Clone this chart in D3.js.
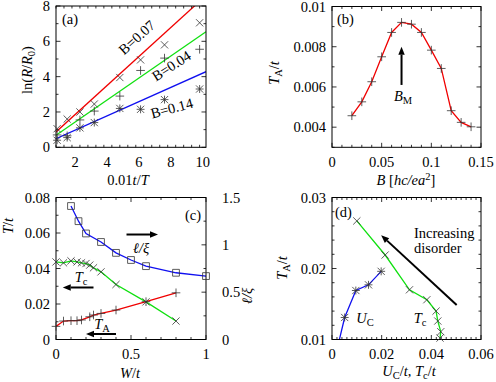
<!DOCTYPE html>
<html>
<script src="https://d3js.org/d3.v7.min.js"></script>
<style>
  body { margin: 0; background: #fff; }
  svg text { font-family: 'Liberation Serif', 'Times New Roman', Times, 'DejaVu Serif', serif; font-size: 14.5px; fill: #000; }
</style>
<body>
<svg width=496 height=382></svg>
<script>
// ---- panel (a): ln(R/R0) vs 0.01t/T
const aX = [0.87, 1.5, 2.3, 3.2, 4.8, 6.1, 7.6, 9.8];
const aB007 = [1.05, 1.6, 2.0, 2.45, 3.95, 4.95, 5.8, 7.05];
const aB004 = [0.7, 0.65, 1.55, 2.05, 2.9, 4.35, 5.05, 5.55];
const aB014 = [0.4, 0.55, 1.1, 1.4, 2.2, 2.15, 2.7, 3.3];
const aFitIntercept = [0.21, 0.18, 0.17];
const aFitSlope = [0.822, 0.624, 0.403];
const aXTicks = [2, 4, 6, 8, 10];
const aYTicks = [0, 2, 4, 6, 8];

// ---- panel (b): T_A/t vs B
const bB = [0.02, 0.03, 0.04, 0.05, 0.06, 0.07, 0.08, 0.09, 0.10, 0.11, 0.12, 0.13, 0.14];
const bTA = [0.00457, 0.00526, 0.00626, 0.0075, 0.00871, 0.00921, 0.00912, 0.00871, 0.00783, 0.00692, 0.00482, 0.00424, 0.00402];
const bXTicks = [0, 0.05, 0.1, 0.15];
const bYTicks = [0.004, 0.006, 0.008, 0.01];

// ---- panel (c): T/t and l/xi vs W/t
const cWl = [0.1, 0.15, 0.2, 0.3, 0.4, 0.5, 0.6, 0.8, 1.0];
const cLxi = [1.41, 1.25, 1.12, 1.03, 0.915, 0.84, 0.775, 0.705, 0.67];
const cWc = [0, 0.05, 0.1, 0.14, 0.17, 0.2, 0.225, 0.25, 0.3, 0.4, 0.6, 0.8];
const cTc = [0.0437, 0.0432, 0.0443, 0.0437, 0.0432, 0.0428, 0.0419, 0.0404, 0.0381, 0.031, 0.0212, 0.0104];
const cWa = [0, 0.05, 0.1, 0.14, 0.17, 0.225, 0.25, 0.3, 0.4, 0.6, 0.8];
const cTA = [0.0074, 0.0104, 0.0106, 0.0106, 0.011, 0.0128, 0.0138, 0.0147, 0.0166, 0.0213, 0.0263];
const cXTicks = [0, 0.5, 1];
const cYTicks = [0, 0.02, 0.04, 0.06, 0.08];
const cY2Ticks = [0, 0.5, 1, 1.5];

// ---- panel (d): T_A/t vs U_C/t, T_c/t
const dUc = [0.0025, 0.0051, 0.0096, 0.0147, 0.0198];
const dTAu = [0.0093, 0.0131, 0.0169, 0.0177, 0.0196];
const dTc = [0.01, 0.0214, 0.0312, 0.0382, 0.0419, 0.0426, 0.0438, 0.0435];
const dTAc = [0.0267, 0.0219, 0.017, 0.0156, 0.014, 0.0126, 0.0111, 0.0102];
const dXTicks = [0, 0.02, 0.04, 0.06];
const dYTicks = [0.01, 0.02, 0.03];

const RED = '#f00000', GREEN = '#10e010', BLUE = '#1010f0', MK = '#333';
const svg = d3.select('svg');
let clipN = 0;

function panel(box, xd, yd, y2d) {
  const p = {};
  p.x = d3.scaleLinear().domain(xd).range([box.l, box.r]);
  p.y = d3.scaleLinear().domain(yd).range([box.b, box.t]);
  if (y2d) p.y2 = d3.scaleLinear().domain(y2d).range([box.b, box.t]);
  p.box = box;
  const id = 'clip' + (clipN++);
  svg.append('clipPath').attr('id', id).append('rect')
    .attr('x', box.l).attr('y', box.t).attr('width', box.r - box.l).attr('height', box.b - box.t);
  p.g = svg.append('g');
  p.clip = p.g.append('g').attr('clip-path', 'url(#' + id + ')');
  return p;
}

function frame(p, xt, xminor, yt, yminor, fx, fy, y2t, y2minor, fy2) {
  const b = p.box, g = p.g;
  const tk = g.append('g').attr('stroke', '#000').attr('stroke-width', 0.8);
  const xs = d3.range(p.x.domain()[0], p.x.domain()[1] + 1e-9, xminor);
  xs.forEach(v => {
    const major = xt.some(t => Math.abs(t - v) < xminor / 10);
    const L = major ? 4.5 : 2.5, X = p.x(v);
    tk.append('line').attr('x1', X).attr('x2', X).attr('y1', b.b).attr('y2', b.b - L);
    tk.append('line').attr('x1', X).attr('x2', X).attr('y1', b.t).attr('y2', b.t + L);
  });
  const ys = d3.range(p.y.domain()[0], p.y.domain()[1] + 1e-9, yminor);
  ys.forEach(v => {
    const major = yt.some(t => Math.abs(t - v) < yminor / 10);
    const L = major ? 4.5 : 2.5, Y = p.y(v);
    tk.append('line').attr('x1', b.l).attr('x2', b.l + L).attr('y1', Y).attr('y2', Y);
    if (!y2t) tk.append('line').attr('x1', b.r).attr('x2', b.r - L).attr('y1', Y).attr('y2', Y);
  });
  if (y2t) {
    d3.range(p.y2.domain()[0], p.y2.domain()[1] + 1e-9, y2minor).forEach(v => {
      const major = y2t.some(t => Math.abs(t - v) < y2minor / 10);
      const L = major ? 4.5 : 2.5, Y = p.y2(v);
      tk.append('line').attr('x1', b.r).attr('x2', b.r - L).attr('y1', Y).attr('y2', Y);
    });
    g.selectAll(null).data(y2t).enter().append('text')
      .attr('x', b.r + 16).attr('y', d => p.y2(d) + 5).text(fy2);
  }
  g.append('rect').attr('x', b.l).attr('y', b.t).attr('width', b.r - b.l).attr('height', b.b - b.t)
    .attr('fill', 'none').attr('stroke', '#000').attr('stroke-width', 1);
  g.selectAll(null).data(xt).enter().append('text')
    .attr('x', d => p.x(d)).attr('y', b.b + 19.5).attr('text-anchor', 'middle').text(fx);
  g.selectAll(null).data(yt).enter().append('text')
    .attr('x', b.l - 6).attr('y', d => p.y(d) + 5).attr('text-anchor', 'end').text(fy);
}

function series(p, xs, ys, color, marker, yscale) {
  const ysc = yscale || p.y;
  const pts = xs.map((x, i) => [p.x(x), ysc(ys[i])]);
  if (color) p.clip.append('path').attr('d', d3.line()(pts)).attr('fill', 'none')
    .attr('stroke', color).attr('stroke-width', 1.3);
  const b = p.box;
  const inside = pts.filter(q => q[0] >= b.l - 1 && q[0] <= b.r + 1 && q[1] >= b.t - 1 && q[1] <= b.b + 1);
  const s = 3.6;
  const shapes = {
    x: `M${-s},${-s}L${s},${s}M${-s},${s}L${s},${-s}`,
    p: `M${-s * 1.2},0L${s * 1.2},0M0,${-s * 1.2}L0,${s * 1.2}`,
    a: `M${-s},${-s}L${s},${s}M${-s},${s}L${s},${-s}M${-s * 1.1},0L${s * 1.1},0M0,${-s * 1.1}L0,${s * 1.1}`,
    q: `M${-3.4},${-3.4}H3.4V3.4H-3.4Z`
  };
  p.g.selectAll(null).data(inside).enter().append('path')
    .attr('transform', d => `translate(${d[0]},${d[1]})`)
    .attr('d', shapes[marker]).attr('fill', 'none').attr('stroke', MK).attr('stroke-width', 0.8);
}

function rich(x, y, parts, anchor, rot) {
  const t = svg.append('text').attr('text-anchor', anchor || 'middle');
  if (rot != null) t.attr('transform', `translate(${x},${y}) rotate(${rot})`);
  else t.attr('x', x).attr('y', y);
  let shift = 0;
  parts.forEach(pt => {
    const [str, st] = typeof pt === 'string' ? [pt, ''] : pt;
    const ts = t.append('tspan').text(str);
    let want = 0;
    if (st.includes('s')) { want = 3; ts.style('font-size', '10.5px'); }
    if (st.includes('u')) { want = -5.5; ts.style('font-size', '10.5px'); }
    if (st.includes('i')) ts.style('font-style', 'italic');
    if (want !== shift) { ts.attr('dy', want - shift); shift = want; }
  });
  return t;
}

function arrow(x1, y1, x2, y2) {
  const ang = Math.atan2(y2 - y1, x2 - x1), L = 8, W = 3.2;
  const bx = x2 - L * Math.cos(ang), by = y2 - L * Math.sin(ang);
  svg.append('line').attr('x1', x1).attr('y1', y1).attr('x2', bx).attr('y2', by)
    .attr('stroke', '#000').attr('stroke-width', 2);
  svg.append('path').attr('d', `M${x2},${y2}L${bx - W * Math.sin(ang)},${by + W * Math.cos(ang)}L${bx + W * Math.sin(ang)},${by - W * Math.cos(ang)}Z`)
    .attr('fill', '#000');
}

// ===== (a)
const pa = panel({ l: 56, r: 206, t: 6, b: 147.3 }, [0.8, 10.2], [0, 8]);
frame(pa, aXTicks, 0.5, aYTicks, 1, d => d, d => d);
[RED, GREEN, BLUE].forEach((c, i) => {
  const xd = pa.x.domain();
  pa.clip.append('line').attr('x1', pa.x(xd[0])).attr('y1', pa.y(aFitIntercept[i] + aFitSlope[i] * xd[0]))
    .attr('x2', pa.x(xd[1])).attr('y2', pa.y(aFitIntercept[i] + aFitSlope[i] * xd[1]))
    .attr('stroke', c).attr('stroke-width', 1.3);
});
series(pa, aX, aB007, null, 'x');
series(pa, aX, aB004, null, 'p');
series(pa, aX, aB014, null, 'a');
rich(62, 24, ['(a)'], 'start');
rich(140, 41, ['B=0.07'], 'middle', -42);
rich(174, 70, ['B=0.04'], 'middle', -33);
rich(173, 113, ['B=0.14'], 'middle', -15);
rich(32, 70, ['ln(', ['R', 'i'], '/', ['R', 'i'], ['0', 's'], ')'], 'middle', -90);
rich(128, 185, ['0.01', ['t', 'i'], '/', ['T', 'i']]);

// ===== (b)
const pb = panel({ l: 332, r: 481, t: 6.5, b: 147.3 }, [0, 0.15], [0.003, 0.01]);
frame(pb, bXTicks, 0.01, bYTicks, 0.001, d => d === 0 ? '0' : d3.format('')(d), d => d);
series(pb, bB, bTA, RED, 'p');
arrow(pb.x(0.07), pb.y(0.0061), pb.x(0.07), pb.y(0.0080));
rich(403, 101, [['B', 'i'], ['M', 's']]);
rich(337, 24, ['(b)'], 'start');
rich(279, 73, [['T', 'i'], ['A', 's'], '/', ['t', 'i']], 'middle', -90);
rich(406, 185, [['B', 'i'], ' [', ['hc/ea', 'i'], ['2', 'u'], ']']);

// ===== (c)
const pc = panel({ l: 56, r: 206, t: 197.5, b: 339.5 }, [0, 1], [0, 0.08], [0, 1.5]);
frame(pc, cXTicks, 0.1, cYTicks, 0.01, d => d, d => d, cY2Ticks, 0.25, d => d);
series(pc, cWl, cLxi, BLUE, 'q', pc.y2);
series(pc, cWc, cTc, GREEN, 'x');
series(pc, cWa, cTA, RED, 'p');
arrow(pc.x(0.47), pc.y2(1.109), pc.x(0.68), pc.y2(1.109));
arrow(pc.x(0.25), pc.y(0.0293), pc.x(0.045), pc.y(0.0293));
arrow(pc.x(0.4), pc.y(0.0031), pc.x(0.2), pc.y(0.0031));
rich(141, 253, [['ℓ/ξ', 'i']]);
rich(81, 282, [['T', 'i'], ['c', 's']]);
rich(102, 329, [['T', 'i'], ['A', 's']]);
rich(185, 220, ['(c)'], 'start');
rich(13, 226, [['T', 'i'], '/', ['t', 'i']], 'middle', -90);
rich(252, 296, [['ℓ/ξ', 'i']], 'middle', -90);
rich(130, 377.5, [['W', 'i'], '/', ['t', 'i']]);

// ===== (d)
const pd = panel({ l: 332, r: 481, t: 197.5, b: 339.5 }, [0, 0.06], [0.01, 0.03]);
frame(pd, dXTicks, 0.002, dYTicks, 0.002, d => d, d => d);
series(pd, dUc, dTAu, BLUE, 'a');
series(pd, dTc, dTAc, GREEN, 'x');
arrow(pd.x(0.0502), pd.y(0.01485), pd.x(0.0198), pd.y(0.02469));
rich(414, 238, ['Increasing'], 'start');
rich(414, 253, ['disorder'], 'start');
rich(365, 323, [['U', 'i'], ['C', 's']]);
rich(420, 323, [['T', 'i'], ['c', 's']]);
rich(335, 217, ['(d)'], 'start');
rich(287, 268, [['T', 'i'], ['A', 's'], '/', ['t', 'i']], 'middle', -90);
rich(409, 376, [['U', 'i'], ['C', 's'], '/', ['t', 'i'], ', ', ['T', 'i'], ['c', 's'], '/', ['t', 'i']]);
</script>
</body>
</html>
